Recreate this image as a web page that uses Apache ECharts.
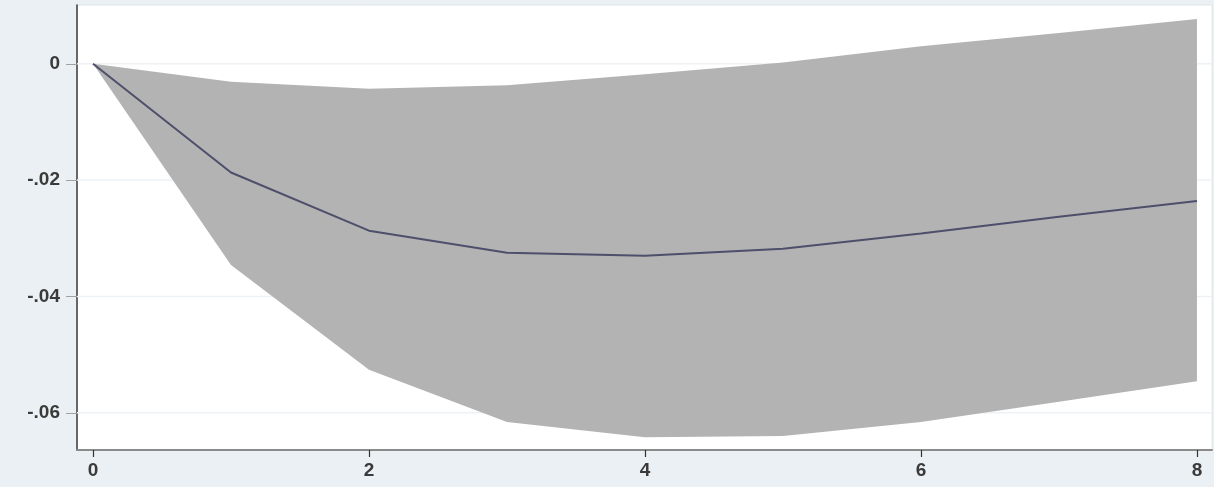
<!DOCTYPE html>
<html>
<head>
<meta charset="utf-8">
<script src="https://cdn.jsdelivr.net/npm/echarts@6/dist/echarts.min.js"></script>
<style>
html,body{margin:0;padding:0;background:#eaf0f3;}
#c{width:1214px;height:487px;}
</style>
</head>
<body>
<div id="c"></div>
<script>
// Data
var steps = [0, 1, 2, 3, 4, 5, 6, 7, 8];
var irf   = [0, -0.0187, -0.0287, -0.0325, -0.0330, -0.0318, -0.0292, -0.0263, -0.0236];
var upper = [0, -0.0031, -0.0043, -0.0037, -0.0018, 0.0002, 0.0030, 0.0053, 0.0077];
var lower = [0, -0.0346, -0.0526, -0.0616, -0.0642, -0.0640, -0.0616, -0.0581, -0.0546];
var xTicks = [0, 2, 4, 6, 8];
var yTicks = [0, -0.02, -0.04, -0.06];

var bandData = steps.map(function(x, i){ return [x, lower[i], upper[i]]; });
var irfPts = steps.map(function(x, i){ return [x, irf[i]]; });

function fmtY(v){
  if (Math.abs(v) < 1e-9) return '0';
  return v.toFixed(2).replace('0.', '.');
}

var chart = echarts.init(document.getElementById('c'));
chart.setOption({
  backgroundColor: '#eaf0f3',
  animation: false,
  grid: {
    left: 77, right: 2, top: 5, bottom: 37,
    show: true, backgroundColor: '#ffffff', borderWidth: 1, borderColor: '#e2e6e9',
    outerBoundsMode: 'none'
  },
  xAxis: {
    type: 'value', min: -0.116, max: 8.109,
    axisLine: { show: true, onZero: false, lineStyle: { color: '#8a8a8a', width: 2 } },
    axisTick: { show: true, customValues: xTicks, length: 7, lineStyle: { color: '#333', width: 1.2 } },
    axisLabel: { customValues: xTicks, margin: 11, fontFamily: 'Liberation Sans', fontSize: 19, fontWeight: 'bold', color: '#3a3a3a',
                 formatter: function(v){ return String(v); } },
    splitLine: { show: false }
  },
  yAxis: {
    type: 'value', min: -0.0664, max: 0.0101,
    axisLine: { show: true, onZero: false, lineStyle: { color: '#3a3a3a', width: 1.5 } },
    axisTick: { show: true, customValues: yTicks, length: 11, lineStyle: { color: '#a0a0a0', width: 1 } },
    axisLabel: { customValues: yTicks, margin: 17, fontFamily: 'Liberation Sans', fontSize: 19, fontWeight: 'bold', color: '#3a3a3a',
                 formatter: fmtY },
    splitLine: { show: false }
  },
  series: [
    {
      type: 'custom', silent: true, z: 2,
      data: bandData,
      encode: { x: 0, y: [1, 2] },
      renderItem: function(params, api){
        if (params.dataIndex !== 0) return null;
        var cs = params.coordSys;
        var children = [];
        yTicks.forEach(function(v){
          var y = api.coord([0, v])[1];
          children.push({ type: 'line', shape: { x1: cs.x, y1: y, x2: cs.x + cs.width, y2: y },
                          style: { stroke: '#eef2f5', lineWidth: 1.5 } });
        });
        var pts = [], i;
        for (i = 0; i < bandData.length; i++) pts.push(api.coord([bandData[i][0], bandData[i][2]]));
        for (i = bandData.length - 1; i >= 0; i--) pts.push(api.coord([bandData[i][0], bandData[i][1]]));
        children.push({ type: 'polygon', shape: { points: pts }, style: { fill: '#b3b3b3', stroke: null } });
        return { type: 'group', children: children };
      }
    },
    {
      type: 'line', data: irfPts, symbol: 'none',
      lineStyle: { color: '#4d4f6b', width: 2 }, z: 5
    }
  ]
});
</script>
</body>
</html>
